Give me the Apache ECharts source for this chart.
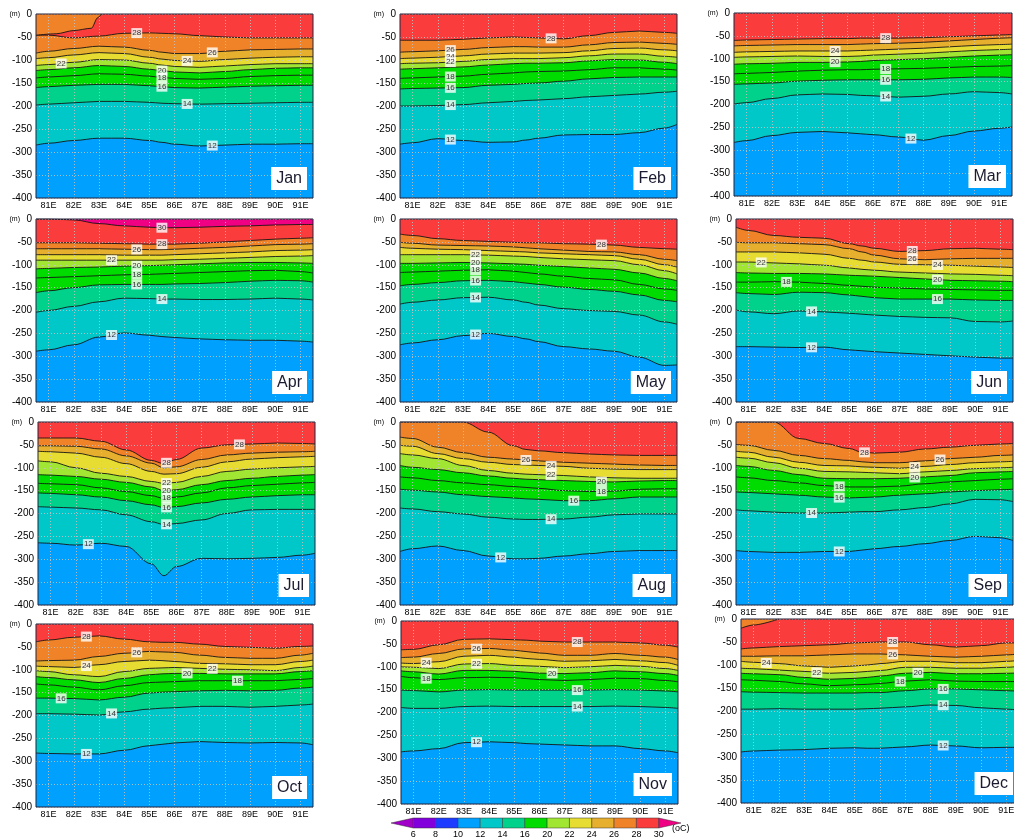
<!DOCTYPE html>
<html>
<head>
<meta charset="utf-8">
<script src="https://cdn.jsdelivr.net/npm/echarts@6/dist/echarts.min.js"></script>
<style>
  html, body { margin: 0; padding: 0; background: #fff; }
  #chart { width: 1014px; height: 837px; }
</style>
</head>
<body>
<div id="chart"></div>
<script>
// longitudes (deg E) where isotherm depths are sampled
const LON = [80.5, 81, 82, 83, 84, 85, 85.5, 86, 87, 88, 89, 90, 91, 91.5];
const X_TICKS = [81, 82, 83, 84, 85, 86, 87, 88, 89, 90, 91];
const ISOTHERMS = [28, 26, 24, 22, 20, 18, 16, 14, 12];
const MONTHS = ['Jan', 'Feb', 'Mar', 'Apr', 'May', 'Jun', 'Jul', 'Aug', 'Sep', 'Oct', 'Nov', 'Dec'];

// isotherm depths (m), one row per isotherm in ISOTHERMS order
const JAN = [
  [-46, -46, -52, -48, -42, -41, -42, -43, -47, -50, -52, -52, -52, -52],
  [-85, -81, -75, -70, -72, -79, -83, -86, -86, -81, -78, -77, -76, -76],
  [-97, -95, -89, -84, -86, -94, -98, -101, -103, -99, -96, -94, -93, -93],
  [-112, -110, -105, -99, -100, -107, -111, -114, -116, -113, -110, -108, -108, -108],
  [-123, -121, -117, -112, -114, -120, -123, -126, -128, -125, -121, -118, -117, -117],
  [-139, -137, -134, -130, -131, -135, -138, -140, -142, -140, -136, -134, -133, -133],
  [-160, -158, -155, -153, -153, -156, -158, -160, -161, -159, -157, -156, -155, -155],
  [-198, -196, -193, -190, -190, -192, -194, -195, -196, -195, -194, -193, -192, -192],
  [-285, -281, -275, -270, -270, -275, -279, -283, -287, -285, -283, -283, -282, -282]
];
const FEB = [
  [-57, -57, -57, -55, -52, -50, -51, -52, -54, -47, -40, -37, -40, -42],
  [-83, -82, -80, -77, -73, -71, -71, -72, -72, -67, -62, -61, -64, -66],
  [-97, -96, -94, -91, -87, -85, -85, -85, -84, -80, -75, -74, -78, -80],
  [-108, -107, -106, -103, -99, -97, -97, -97, -95, -91, -87, -87, -92, -94],
  [-120, -119, -117, -115, -111, -108, -107, -107, -106, -102, -99, -100, -105, -108],
  [-140, -139, -137, -135, -131, -128, -126, -125, -124, -121, -117, -117, -120, -122],
  [-163, -162, -161, -160, -155, -153, -151, -150, -146, -141, -138, -137, -137, -137],
  [-200, -200, -199, -197, -193, -190, -188, -187, -184, -180, -177, -174, -170, -168],
  [-283, -280, -271, -275, -279, -278, -274, -270, -263, -262, -262, -258, -248, -240]
];
const MAR = [
  [-60, -59, -58, -57, -56, -56, -55, -55, -55, -54, -52, -50, -48, -47],
  [-72, -71, -70, -69, -69, -69, -68, -67, -66, -64, -61, -58, -55, -54],
  [-86, -85, -84, -83, -83, -83, -82, -81, -79, -77, -74, -71, -69, -68],
  [-97, -96, -95, -94, -95, -95, -94, -92, -90, -88, -85, -82, -80, -79],
  [-112, -111, -110, -108, -108, -107, -106, -104, -102, -100, -97, -94, -92, -91],
  [-133, -132, -130, -127, -125, -124, -124, -123, -122, -121, -119, -117, -116, -115],
  [-156, -155, -153, -149, -147, -146, -146, -146, -146, -145, -142, -140, -140, -141],
  [-199, -196, -187, -179, -177, -178, -180, -181, -184, -182, -177, -172, -174, -177],
  [-283, -279, -268, -261, -259, -262, -264, -266, -271, -278, -268, -258, -252, -249]
];
const APR_30 = [0, 0, -2, -10, -15, -18, -19, -19, -18, -16, -15, -13, -12, -12];
const APR = [
  [-52, -52, -52, -53, -54, -55, -55, -55, -53, -50, -47, -44, -42, -41],
  [-65, -65, -65, -65, -66, -67, -67, -66, -64, -62, -59, -56, -55, -54],
  [-78, -78, -78, -78, -79, -79, -79, -78, -76, -74, -72, -69, -68, -67],
  [-90, -90, -90, -90, -90, -90, -90, -89, -88, -86, -84, -82, -81, -80],
  [-109, -108, -106, -105, -103, -102, -101, -100, -98, -96, -95, -95, -96, -97],
  [-129, -128, -126, -124, -122, -121, -120, -119, -117, -115, -113, -112, -115, -118],
  [-161, -157, -150, -144, -143, -143, -143, -142, -141, -139, -136, -134, -135, -138],
  [-204, -200, -191, -181, -173, -174, -175, -175, -176, -176, -175, -173, -175, -177],
  [-289, -286, -275, -258, -249, -254, -257, -259, -262, -264, -265, -265, -267, -269]
];
const MAY = [
  [-33, -36, -43, -47, -49, -51, -52, -52, -54, -55, -57, -62, -65, -66],
  [-51, -53, -57, -58, -59, -61, -63, -65, -68, -71, -72, -78, -88, -91],
  [-62, -64, -66, -67, -69, -71, -72, -74, -76, -78, -80, -88, -100, -105],
  [-78, -78, -78, -78, -79, -81, -82, -84, -87, -89, -91, -100, -113, -120],
  [-97, -97, -96, -95, -96, -98, -99, -101, -104, -107, -110, -118, -130, -135],
  [-117, -116, -114, -112, -111, -114, -117, -120, -125, -130, -133, -143, -153, -156],
  [-146, -143, -139, -135, -134, -137, -140, -143, -149, -154, -158, -166, -178, -181],
  [-186, -182, -177, -172, -171, -177, -182, -188, -196, -200, -202, -210, -225, -230],
  [-275, -271, -264, -255, -250, -257, -262, -268, -279, -284, -289, -302, -320, -319]
];
const JUN = [
  [-18, -25, -36, -40, -42, -54, -59, -64, -71, -69, -65, -64, -66, -67],
  [-51, -52, -52, -54, -56, -65, -72, -79, -87, -89, -87, -86, -86, -86],
  [-72, -72, -72, -74, -77, -86, -90, -94, -99, -100, -101, -103, -105, -106],
  [-94, -94, -96, -98, -101, -107, -110, -112, -116, -118, -120, -121, -123, -124],
  [-117, -118, -119, -119, -120, -123, -124, -125, -128, -131, -134, -135, -136, -137],
  [-138, -138, -137, -138, -141, -145, -147, -149, -151, -153, -154, -155, -156, -156],
  [-161, -163, -165, -160, -161, -166, -169, -172, -175, -175, -175, -177, -178, -178],
  [-199, -203, -207, -201, -203, -206, -208, -210, -213, -215, -216, -224, -225, -223],
  [-279, -279, -280, -281, -280, -286, -288, -290, -293, -296, -299, -302, -304, -304]
];
const JUL = [
  [-35, -35, -35, -42, -61, -84, -91, -82, -57, -50, -48, -46, -47, -48],
  [-52, -52, -53, -59, -74, -90, -100, -98, -82, -72, -68, -66, -65, -64],
  [-64, -65, -68, -77, -91, -108, -114, -113, -99, -87, -81, -78, -76, -75],
  [-85, -87, -100, -112, -119, -130, -134, -132, -119, -108, -103, -100, -98, -97],
  [-115, -116, -119, -125, -132, -142, -150, -148, -137, -128, -123, -119, -116, -115],
  [-134, -135, -137, -144, -152, -161, -167, -164, -155, -144, -139, -136, -133, -132],
  [-155, -156, -159, -164, -172, -181, -187, -185, -177, -169, -164, -161, -159, -159],
  [-185, -186, -188, -192, -203, -218, -224, -222, -214, -200, -192, -191, -191, -191],
  [-264, -265, -269, -265, -272, -310, -336, -316, -298, -299, -298, -296, -291, -287]
];
const AUG = [
  [0, 0, 0, 0, -22, -52, -60, -63, -67, -70, -72, -73, -73, -73],
  [-33, -36, -55, -67, -77, -81, -83, -85, -88, -90, -92, -94, -95, -95],
  [-51, -53, -69, -80, -88, -93, -94, -95, -97, -101, -103, -104, -104, -104],
  [-69, -72, -80, -95, -106, -112, -114, -115, -117, -120, -122, -123, -123, -123],
  [-95, -99, -104, -111, -118, -123, -125, -126, -128, -130, -131, -129, -128, -128],
  [-120, -122, -128, -133, -137, -141, -143, -145, -150, -152, -151, -147, -146, -146],
  [-147, -149, -153, -159, -163, -166, -168, -169, -172, -172, -168, -164, -164, -164],
  [-188, -190, -196, -201, -208, -212, -213, -213, -212, -208, -203, -201, -201, -201],
  [-283, -277, -271, -281, -293, -299, -299, -298, -293, -288, -283, -281, -281, -281]
];
const SEP = [
  [0, 0, 0, -36, -47, -58, -66, -68, -66, -59, -55, -51, -48, -47],
  [-49, -51, -62, -73, -80, -84, -87, -89, -89, -85, -80, -77, -73, -72],
  [-64, -66, -77, -88, -95, -96, -98, -99, -101, -97, -93, -89, -87, -86],
  [-77, -79, -89, -101, -108, -109, -110, -111, -113, -109, -106, -102, -100, -99],
  [-95, -97, -106, -115, -123, -124, -124, -124, -123, -120, -117, -111, -109, -108],
  [-120, -122, -128, -133, -139, -142, -142, -142, -140, -135, -131, -128, -125, -124],
  [-153, -154, -157, -160, -164, -166, -165, -164, -160, -157, -153, -150, -148, -147],
  [-192, -194, -197, -199, -199, -197, -196, -196, -192, -187, -179, -169, -170, -174],
  [-281, -283, -285, -285, -283, -283, -280, -277, -272, -266, -259, -250, -253, -259]
];
const OCT = [
  [-39, -35, -29, -26, -33, -39, -40, -40, -44, -49, -51, -53, -49, -48],
  [-81, -80, -79, -71, -64, -60, -61, -62, -68, -73, -75, -75, -68, -64],
  [-92, -93, -95, -89, -82, -79, -80, -82, -86, -87, -89, -89, -82, -79],
  [-102, -104, -111, -115, -104, -97, -96, -95, -97, -99, -100, -102, -95, -92],
  [-115, -117, -122, -128, -119, -111, -109, -108, -108, -109, -109, -109, -104, -102],
  [-131, -133, -138, -144, -135, -128, -127, -126, -124, -124, -124, -124, -121, -119],
  [-162, -162, -163, -166, -160, -151, -149, -148, -146, -145, -146, -145, -140, -138],
  [-196, -196, -197, -199, -192, -186, -184, -183, -180, -180, -182, -180, -177, -175],
  [-282, -283, -284, -284, -276, -266, -263, -260, -257, -259, -260, -259, -260, -264]
];
const NOV = [
  [-63, -62, -52, -40, -39, -41, -42, -44, -46, -46, -46, -48, -53, -57],
  [-80, -79, -71, -61, -60, -64, -67, -70, -75, -75, -71, -75, -79, -84],
  [-92, -93, -89, -77, -75, -79, -82, -84, -88, -87, -84, -87, -91, -97],
  [-100, -101, -104, -94, -93, -97, -98, -99, -102, -100, -97, -99, -104, -108],
  [-109, -111, -116, -108, -108, -110, -112, -114, -115, -113, -109, -111, -115, -119],
  [-121, -124, -128, -124, -123, -124, -126, -128, -130, -128, -125, -126, -130, -133],
  [-151, -152, -155, -151, -150, -151, -151, -151, -151, -151, -150, -151, -153, -155],
  [-189, -191, -191, -187, -186, -187, -187, -187, -187, -187, -186, -187, -189, -191],
  [-286, -284, -279, -266, -264, -266, -268, -269, -271, -273, -273, -279, -284, -288]
];
const DEC = [
  [-65, -63, -60, -58, -56, -52, -51, -50, -50, -56, -61, -58, -52, -52],
  [-81, -81, -80, -80, -78, -76, -76, -76, -78, -81, -83, -81, -78, -76],
  [-92, -94, -97, -102, -105, -102, -100, -97, -92, -92, -95, -95, -92, -90],
  [-107, -108, -111, -114, -118, -116, -114, -112, -105, -105, -107, -107, -105, -103],
  [-118, -119, -121, -127, -131, -129, -127, -124, -118, -116, -119, -119, -118, -117],
  [-132, -133, -136, -141, -145, -143, -142, -140, -135, -132, -135, -136, -136, -136],
  [-158, -159, -160, -161, -161, -161, -160, -160, -156, -152, -152, -154, -156, -157],
  [-196, -196, -195, -196, -196, -196, -195, -194, -191, -187, -188, -193, -196, -198],
  [-289, -287, -285, -284, -281, -280, -281, -281, -278, -274, -276, -280, -279, -279]
];

// cooler surface water above warmer water (26-28 band over the 28 isotherm)
const JAN_PATCH_LON = [80.5, 81.3, 82, 82.7, 82.95, 83.1];
const JAN_PATCH_DEPTH = [-46, -43, -36, -31, -8, 0];
const DEC_PATCH_LON = [80.5, 81, 82];
const DEC_PATCH_DEPTH = [-20, -13, 0];

// contour labels: [isotherm, longitude]
const LABELS_JAN = [[28, 84.5], [26, 87.5], [24, 86.5], [22, 81.5], [20, 85.5], [18, 85.5], [16, 85.5], [14, 86.5], [12, 87.5]];
const LABELS_FEB = [[28, 86.5], [26, 82.5], [24, 82.5], [22, 82.5], [18, 82.5], [16, 82.5], [14, 82.5], [12, 82.5]];
const LABELS_MAR = [[28, 86.5], [24, 84.5], [20, 84.5], [18, 86.5], [16, 86.5], [14, 86.5], [12, 87.5]];
const LABELS_APR = [[30, 85.5], [28, 85.5], [26, 84.5], [22, 83.5], [20, 84.5], [18, 84.5], [16, 84.5], [14, 85.5], [12, 83.5]];
const LABELS_MAY = [[28, 88.5], [22, 83.5], [20, 83.5], [18, 83.5], [16, 83.5], [14, 83.5], [12, 83.5]];
const LABELS_JUN = [[28, 87.5], [26, 87.5], [24, 88.5], [22, 81.5], [20, 88.5], [18, 82.5], [16, 88.5], [14, 83.5], [12, 83.5]];
const LABELS_JUL = [[28, 88.5], [28, 85.6], [22, 85.6], [20, 85.6], [18, 85.6], [16, 85.6], [14, 85.6], [12, 82.5]];
const LABELS_AUG = [[26, 85.5], [24, 86.5], [22, 86.5], [20, 88.5], [18, 88.5], [16, 87.4], [14, 86.5], [12, 84.5]];
const LABELS_SEP = [[28, 85.6], [26, 88.6], [24, 87.6], [20, 87.6], [18, 84.6], [16, 84.6], [14, 83.5], [12, 84.6]];
const LABELS_OCT = [[28, 82.5], [26, 84.5], [24, 82.5], [22, 87.5], [20, 86.5], [18, 88.5], [16, 81.5], [14, 83.5], [12, 82.5]];
const LABELS_NOV = [[28, 87.5], [26, 83.5], [24, 81.5], [22, 83.5], [20, 86.5], [18, 81.5], [16, 87.5], [14, 87.5], [12, 83.5]];
const LABELS_DEC = [[28, 86.5], [26, 86.5], [24, 81.5], [22, 83.5], [20, 87.5], [18, 86.8], [16, 88.5], [14, 88.5], [12, 88.5]];

// colour bar tick labels
const CB_LABELS = [6, 8, 10, 12, 14, 16, 20, 22, 24, 26, 28, 30];

const PANELS = [
  { iso: JAN, labels: LABELS_JAN, patch: [JAN_PATCH_LON, JAN_PATCH_DEPTH] },
  { iso: FEB, labels: LABELS_FEB },
  { iso: MAR, labels: LABELS_MAR },
  { iso: APR, labels: LABELS_APR, t30: APR_30 },
  { iso: MAY, labels: LABELS_MAY },
  { iso: JUN, labels: LABELS_JUN },
  { iso: JUL, labels: LABELS_JUL },
  { iso: AUG, labels: LABELS_AUG },
  { iso: SEP, labels: LABELS_SEP },
  { iso: OCT, labels: LABELS_OCT },
  { iso: NOV, labels: LABELS_NOV },
  { iso: DEC, labels: LABELS_DEC, patch: [DEC_PATCH_LON, DEC_PATCH_DEPTH] }
];

// panel layout [left, top, width, height]
const LAYOUT = [
  [36, 14, 277, 184], [400, 14, 277, 184], [734, 13, 278, 183],
  [36, 219, 277, 183], [400, 219, 277, 183], [736, 219, 277, 183],
  [38, 422, 277, 183], [400, 422, 277, 183], [736, 422, 277, 183],
  [36, 624, 277, 183], [401, 621, 277, 183], [741, 619, 278, 184]
];

// colour of the band just below an isotherm (key = isotherm)
const BAND_COLOR = {
  12: 'rgb(0,160,255)', 14: 'rgb(0,200,200)', 16: 'rgb(0,210,140)',
  18: 'rgb(0,220,0)', 20: 'rgb(0,220,0)', 22: 'rgb(160,230,50)',
  24: 'rgb(230,220,50)', 26: 'rgb(230,175,45)', 28: 'rgb(240,130,40)',
  30: 'rgb(250,60,60)', 32: 'rgb(240,0,130)'
};
const CB_COLORS = ['rgb(160,0,200)', 'rgb(130,0,220)', 'rgb(30,60,255)', 'rgb(0,160,255)',
  'rgb(0,200,200)', 'rgb(0,210,140)', 'rgb(0,220,0)', 'rgb(160,230,50)', 'rgb(230,220,50)',
  'rgb(230,175,45)', 'rgb(240,130,40)', 'rgb(250,60,60)', 'rgb(240,0,130)'];

const FONT = '"Liberation Sans", Arial, sans-serif';
const GRID_LINE = { color: 'rgba(195,195,195,0.85)', width: 1, type: [1, 2] };

function depthAt(p, t, lon) {
  const arr = t === 30 ? p.t30 : p.iso[ISOTHERMS.indexOf(t)];
  for (let j = 0; j < LON.length - 1; j++) {
    if (lon >= LON[j] && lon <= LON[j + 1]) {
      const f = (lon - LON[j]) / (LON[j + 1] - LON[j]);
      return arr[j] + f * (arr[j + 1] - arr[j]);
    }
  }
  return arr[arr.length - 1];
}

const chart = echarts.init(document.getElementById('chart'), null, { renderer: 'canvas' });
const grids = [], xAxes = [], yAxes = [], series = [], titles = [], graphics = [];

PANELS.forEach((p, i) => {
  const [left, top, width, height] = LAYOUT[i];
  const warmest = p.t30 ? 30 : 28;
  grids.push({
    left, top, width, height, show: true, borderWidth: 0,
    backgroundColor: BAND_COLOR[warmest + 2], outerBoundsMode: 'none', containLabel: false
  });
  xAxes.push({
    gridIndex: i, type: 'value', min: 80.5, max: 91.5, z: 5,
    axisLine: { show: false },
    axisTick: { show: false, customValues: X_TICKS },
    axisLabel: { customValues: X_TICKS, formatter: v => v + 'E', fontSize: 9, color: '#000', margin: 3, fontFamily: FONT },
    splitLine: { show: true, lineStyle: GRID_LINE }
  });
  yAxes.push({
    gridIndex: i, type: 'value', min: -400, max: 0, interval: 50, z: 5,
    name: '(m)', nameLocation: 'end', nameGap: 0,
    nameTextStyle: { fontSize: 7, color: '#000', align: 'right', verticalAlign: 'middle', padding: [0, 16, 0, 0], fontFamily: FONT },
    axisLine: { show: false }, axisTick: { show: false },
    axisLabel: { fontSize: 10, color: '#000', margin: 4, fontFamily: FONT },
    splitLine: { show: true, lineStyle: GRID_LINE }
  });

  const lines = (p.t30 ? [[30, p.t30]] : []).concat(ISOTHERMS.map((t, k) => [t, p.iso[k]]));
  lines.forEach(([t, depths]) => {
    series.push({
      type: 'line', xAxisIndex: i, yAxisIndex: i, z: 2, silent: true,
      data: LON.map((x, j) => [x, depths[j]]),
      smooth: 0.35, smoothMonotone: 'x', symbol: 'none',
      lineStyle: { color: '#151515', width: 0.9 },
      areaStyle: { color: BAND_COLOR[t], opacity: 1, origin: 'start' }
    });
  });
  if (p.patch) {
    const [pl, pd] = p.patch;
    series.push({
      type: 'line', xAxisIndex: i, yAxisIndex: i, z: 3, silent: true,
      data: pl.map((x, j) => [x, pd[j]]),
      smooth: 0.3, smoothMonotone: 'x', symbol: 'none',
      lineStyle: { color: '#151515', width: 0.9 },
      areaStyle: { color: BAND_COLOR[28], opacity: 1, origin: 'end' }
    });
  }
  series.push({
    type: 'scatter', xAxisIndex: i, yAxisIndex: i, z: 8, silent: true,
    symbolSize: 1, itemStyle: { color: 'rgba(0,0,0,0)' },
    data: p.labels.map(([t, lon]) => [lon, depthAt(p, t, lon), t]),
    label: {
      show: true, position: 'inside', formatter: q => String(q.value[2]),
      backgroundColor: '#fff', color: '#000', fontSize: 8, fontFamily: FONT,
      padding: [1, 1, 0, 1], lineHeight: 9
    }
  });

  titles.push({
    text: MONTHS[i],
    right: Math.max(1, 1014 - (left + width) + 6),
    bottom: 837 - (top + height) + 8,
    backgroundColor: '#fff', padding: [3, 5, 2, 5],
    textStyle: { fontSize: 16, fontWeight: 'normal', color: '#1a1a30', fontFamily: FONT, lineHeight: 18 }
  });
  graphics.push({
    type: 'rect', z: 100, silent: true,
    shape: { x: left, y: top, width, height },
    style: { fill: null, stroke: '#22223c', lineWidth: 1 }
  });
});

// colour bar
const CB = PANELS.length;
grids.push({ left: 391, top: 818, width: 290, height: 10, outerBoundsMode: 'none', containLabel: false });
xAxes.push({
  gridIndex: CB, type: 'value', min: -1, max: 12, interval: 1,
  axisLine: { show: false }, axisTick: { show: false }, splitLine: { show: false },
  axisLabel: {
    formatter: v => (v >= 0 && v < CB_LABELS.length) ? String(CB_LABELS[v]) : '',
    fontSize: 9, color: '#000', margin: 2, fontFamily: FONT
  }
});
yAxes.push({ gridIndex: CB, type: 'value', min: 0, max: 1, show: false });
series.push({
  type: 'custom', xAxisIndex: CB, yAxisIndex: CB, silent: true,
  data: CB_COLORS.map((c, k) => [k]),
  renderItem: (params, api) => {
    const k = api.value(0);
    const a = api.coord([k - 1, 0]);
    const b = api.coord([k, 1]);
    const mid = (a[1] + b[1]) / 2;
    let points;
    if (k === 0) points = [[a[0], mid], [b[0], b[1]], [b[0], a[1]]];
    else if (k === CB_COLORS.length - 1) points = [[a[0], b[1]], [b[0], mid], [a[0], a[1]]];
    else points = [[a[0], a[1]], [b[0], a[1]], [b[0], b[1]], [a[0], b[1]]];
    return { type: 'polygon', shape: { points }, style: { fill: CB_COLORS[k], stroke: '#333', lineWidth: 0.5 } };
  }
});
graphics.push({
  type: 'text', left: 672, top: 824,
  style: { text: '(oC)', fontSize: 9, fill: '#000', fontFamily: FONT }
});

chart.setOption({
  animation: false,
  backgroundColor: '#fff',
  title: titles,
  grid: grids,
  xAxis: xAxes,
  yAxis: yAxes,
  series,
  graphic: graphics
});
</script>
</body>
</html>
